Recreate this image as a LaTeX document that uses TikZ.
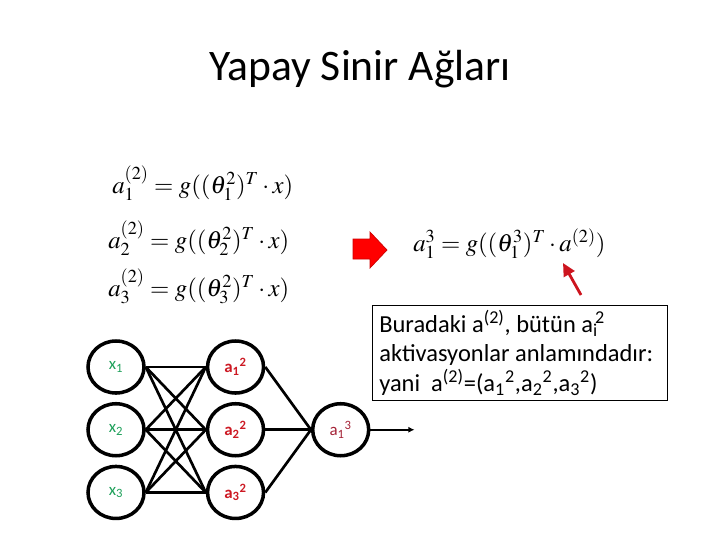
\documentclass[tikz,border=0pt]{standalone}
\usepackage{mathptmx}
\usepackage[no-math]{fontspec}
\setmainfont{Carlito}
\usetikzlibrary{arrows.meta,positioning,shapes.geometric}
\definecolor{xgreen}{RGB}{30,160,90}
\definecolor{hidred}{RGB}{205,25,35}
\definecolor{outred}{RGB}{165,35,55}
\definecolor{ptrred}{RGB}{205,20,30}
\tikzset{
neuron/.style={draw,ellipse,line width=2.5pt,minimum width=1.4cm,minimum height=1.3cm,inner sep=0pt},
inlabel/.style={neuron,text=xgreen,font=\fontsize{12}{14}\selectfont},
hidlabel/.style={neuron,text=hidred,font=\bfseries\fontsize{12}{14}\selectfont},
outlabel/.style={neuron,text=outred,font=\fontsize{12}{14}\selectfont},
conn/.style={line width=1.9pt},
eqn/.style={inner sep=0pt,font=\fontsize{17.6}{21}\selectfont},
notebox/.style={draw,line width=.7pt,align=flush left,text width=7.03cm,inner xsep=.17cm,inner ysep=.12cm,minimum height=2.3cm,font=\fontsize{17.4}{21}\selectfont},
pointer/.style={-{Triangle[length=3.2mm,width=3mm]},line width=2pt,ptrred},
outarrow/.style={-{Latex[length=1.5mm,width=1.5mm]},line width=1.5pt}
}
\begin{document}
\begin{tikzpicture}[x=0.025cm,y=-0.025cm,node distance=.18cm and 1.5cm]
\useasboundingbox[fill=white] (0,0) rectangle (720,540);

\node[anchor=base,font=\fontsize{31}{36}\selectfont] (title) at (360,80) {Yapay Sinir Ağları};

% equations, hidden layer
\node[eqn,anchor=base west] (eqa1) at (112,193) {$a_1^{(2)}=g((\theta_1^2)^T\cdot x)$};
\node[eqn,anchor=base west] (eqa2) at (108,248) {$a_2^{(2)}=g((\theta_2^2)^T\cdot x)$};
\node[eqn,anchor=base west] (eqa3) at (108,296) {$a_3^{(2)}=g((\theta_3^2)^T\cdot x)$};

% equation, output layer
\node[eqn,anchor=base west] (eqout) at (413,251) {$a_1^3=g((\theta_1^3)^T\cdot a^{(2)})$};

\fill[red,draw=red!80!black,line width=.5pt] (353,239) -- (370,239) -- (370,232) -- (387,250) -- (370,268) -- (370,259) -- (353,259) -- cycle;

\coordinate (ptrtail) at (581,295);
\coordinate (ptrhead) at (563,263);
\draw[pointer] (ptrtail) -- (ptrhead);

\node[notebox,anchor=north west] (note) at (372,305) {Buradaki a\textsuperscript{(2)}, bütün a\textsubscript{i}\kern-.12em\textsuperscript{2}\\
aktivasyonlar anlamındadır:\\
yani\ \ a\textsuperscript{(2)}=(a\textsubscript{1}\textsuperscript{2},a\textsubscript{2}\textsuperscript{2},a\textsubscript{3}\textsuperscript{2})};

% network
\node[inlabel] (x1) at (116,367) {x\textsubscript{1}};
\node[inlabel,below=of x1] (x2) {x\textsubscript{2}};
\node[inlabel,below=of x2] (x3) {x\textsubscript{3}};
\node[hidlabel,right=of x1] (h1) {a\textsubscript{1}\textsuperscript{2}};
\node[hidlabel,right=of x2] (h2) {a\textsubscript{2}\textsuperscript{2}};
\node[hidlabel,right=of x3] (h3) {a\textsubscript{3}\textsuperscript{2}};
\node[outlabel,right=1.14cm of h2] (o1) {a\textsubscript{1}\textsuperscript{3}};

\foreach \i in {1,2,3}{
  \foreach \j in {1,2,3}
    \draw[conn] (x\i.east) -- (h\j.west);
  \draw[conn] (h\i.east) -- (o1.west);
}
\coordinate[right=1.1cm of o1.east] (yout);
\draw[outarrow] (o1.east) -- (yout);
\end{tikzpicture}
\end{document}
